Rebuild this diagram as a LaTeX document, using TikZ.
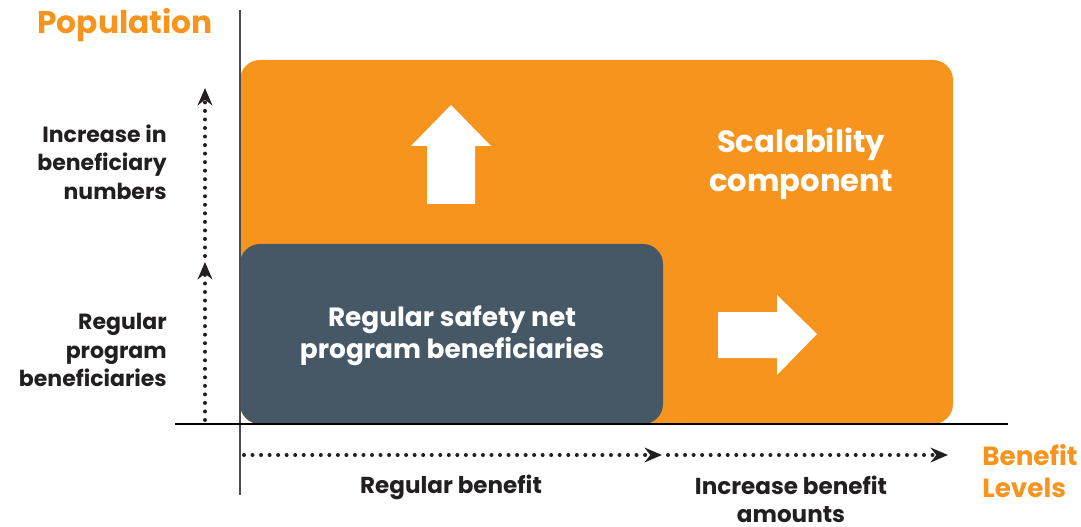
\documentclass[tikz,border=0pt]{standalone}
\usepackage{fontspec}
\setmainfont{Poppins}
\usetikzlibrary{arrows.meta}
\definecolor{scaleorange}{HTML}{F7941E}
\definecolor{netslate}{HTML}{465866}
\definecolor{labelink}{HTML}{231F20}
\tikzset{
  axislabel/.style={text=scaleorange, font=\fontsize{19.7}{24}\selectfont\bfseries, align=left},
  sidelabel/.style={text=labelink, font=\fontsize{16.5}{21.4}\selectfont\bfseries, align=right,
    anchor=east, inner sep=0pt},
  footlabel/.style={text=labelink, font=\fontsize{17.3}{21}\selectfont\bfseries, align=center,
    inner sep=0pt},
  boxlabel/.style={text=white, font=\fontsize{19.8}{24}\selectfont\bfseries, align=center},
  dotarrow/.style={labelink, line width=3pt, line cap=round, dash pattern=on 0pt off 6.4pt,
    -{Stealth[length=13pt,width=11pt]}},
  whitearrow/.style={fill=white, draw=none},
}
\begin{document}
\begin{tikzpicture}[x=0.75pt, y=-0.75pt]
  \useasboundingbox (0,0) rectangle (1081,527);
  % boxes
  \fill[scaleorange, rounded corners=15pt] (240,60) rectangle (953,424);
  \fill[netslate, rounded corners=15pt] (240,244) rectangle (663,424);
  \fill[whitearrow] (427,204) -- (427,146) -- (411,146) -- (451,105) -- (491,146) -- (475,146) -- (475,204) -- cycle;
  \fill[whitearrow] (718,312) -- (777,312) -- (777,295) -- (817,334) -- (777,375) -- (777,358) -- (718,358) -- cycle;
  % axes
  \draw[black!70, line width=1.3pt] (240,10) -- (240,495);
  \draw[black, line width=1.3pt] (175,424) -- (1008,424);
  % dotted arrows
  \coordinate (ybottom) at (205,420);
  \coordinate (ymid) at (205,262);
  \coordinate (ymidup) at (205,256);
  \coordinate (ytop) at (205,88);
  \coordinate (xleft) at (244,455);
  \coordinate (xmid) at (662,455);
  \coordinate (xmidright) at (668,455);
  \coordinate (xright) at (948,455);
  \draw[dotarrow] (ybottom) -- (ymid);
  \draw[dotarrow] (ymidup) -- (ytop);
  \draw[dotarrow] (xleft) -- (xmid);
  \draw[dotarrow] (xmidright) -- (xright);
  % labels
  \node[axislabel, font=\fontsize{23.5}{26}\selectfont\bfseries] (population) at (125,25) {Population};
  \node[axislabel, anchor=west, inner sep=0pt] (benefitlevels) at (982,471) {Benefit\\Levels};
  \node[sidelabel] (increasenumbers) at (167,162) {Increase in\\beneficiary\\numbers};
  \node[sidelabel] (regularprogram) at (167,350) {Regular\\program\\beneficiaries};
  \node[boxlabel, font=\fontsize{23}{29}\selectfont\bfseries] (scalability) at (801,164) {Scalability\\component};
  \node[boxlabel] (safetynet) at (452,336) {Regular safety net\\program beneficiaries};
  \node[footlabel] (regularbenefit) at (451,487) {Regular benefit};
  \node[footlabel] (increaseamounts) at (791,499) {Increase benefit\\amounts};
\end{tikzpicture}
\end{document}
